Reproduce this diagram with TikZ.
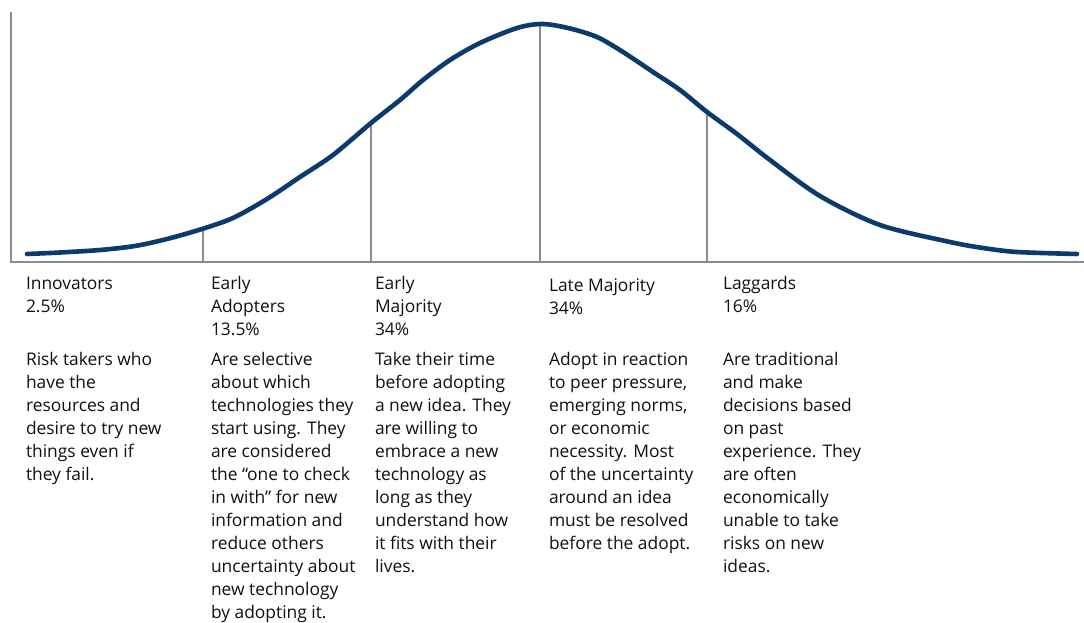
\documentclass[tikz,border=0pt]{standalone}
\usepackage{fontspec}
\setmainfont{Open Sans}
\definecolor{navy}{HTML}{0B3A6C}
\definecolor{axisgray}{HTML}{8C8C8C}
\definecolor{txt}{HTML}{111111}
\begin{document}
\begin{tikzpicture}[x=1pt,y=-1pt,
  axisline/.style={draw=axisgray,line width=2.6pt},
  divider/.style={draw=axisgray,line width=1.6pt},
  curveline/.style={draw=navy,line width=4.6pt,line cap=round,line join=round},
  lbl/.style={anchor=base west,inner sep=0pt,outer sep=0pt,text=txt}]
\useasboundingbox (0,0) rectangle (1084,623);
\fill[white] (0,0) rectangle (1084,623);
% axes
\coordinate (ytop) at (11,12);
\coordinate (orig) at (11,262);
\coordinate (xend) at (1084,262);
\draw[axisline] (ytop) -- (orig) -- (xend);
% dividers
\coordinate (a1) at (203,262); \coordinate (c1) at (203,229);
\coordinate (a2) at (371,262); \coordinate (c2) at (371,123);
\coordinate (a3) at (540,262); \coordinate (c3) at (540,25);
\coordinate (a4) at (707,262); \coordinate (c4) at (707,112);
\foreach \i in {1,2,3,4} \draw[divider] (a\i) -- (c\i);
% curve
\draw[curveline] plot[smooth,tension=0.5] coordinates {
(27,254) (60,252.5) (100,250) (135,246) (167,239) (202,229) (233,218)
(267,199) (300,177) (333,155) (371,123) (400,100) (423,80) (450,60)
(480,43) (517,28) (542,24) (568,28) (597,37) (623,52) (653,72) (680,90)
(707,112) (737,134) (770,160) (820,196) (880,225) (950,242) (983,248)
(1017,252) (1077,254)};
% text
\newcommand{\colbox}[1]{\parbox[t]{170pt}{\fontsize{17.4}{23}\selectfont\raggedright #1}}
\node[lbl] (h1) at (26,289) {\colbox{Innovators\\2.5\%}};
\node[lbl] (h2) at (211,289) {\colbox{Early\\Adopters\\13.5\%}};
\node[lbl] (h3) at (375,289) {\colbox{Early\\Majority\\34\%}};
\node[lbl] (h4) at (549,291) {\colbox{Late Majority\\34\%}};
\node[lbl] (h5) at (723,289) {\colbox{Laggards\\16\%}};
\node[lbl] (d1) at (26,365) {\colbox{Risk takers who\\have the\\resources and\\desire to try new\\things even if\\they fail.}};
\node[lbl] (d2) at (211,365) {\colbox{Are selective\\about which\\technologies they\\start using. They\\are considered\\the “one to check\\in with” for new\\information and\\reduce others\\uncertainty about\\new technology\\by adopting it.}};
\node[lbl] (d3) at (375,365) {\colbox{Take their time\\before adopting\\a new idea. They\\are willing to\\embrace a new\\technology as\\long as they\\understand how\\it fits with their\\lives.}};
\node[lbl] (d4) at (549,365) {\colbox{Adopt in reaction\\to peer pressure,\\emerging norms,\\or economic\\necessity. Most\\of the uncertainty\\around an idea\\must be resolved\\before the adopt.}};
\node[lbl] (d5) at (723,365) {\colbox{Are traditional\\and make\\decisions based\\on past\\experience. They\\are often\\economically\\unable to take\\risks on new\\ideas.}};
\end{tikzpicture}
\end{document}
